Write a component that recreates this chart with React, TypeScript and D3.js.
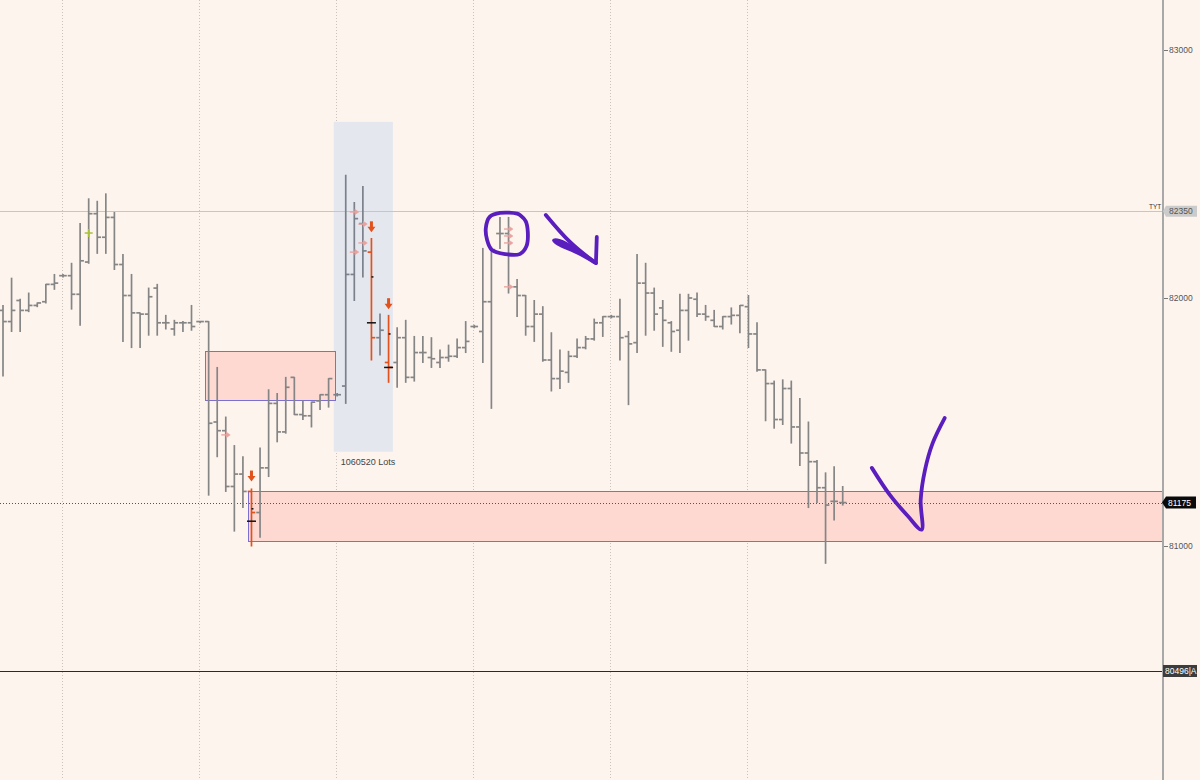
import React from 'react';
import * as d3 from 'd3';

// OHLC bars (price units), one per bar index
const opens = [81950,81905,81990,81950,81970,81985,82055,82090,82090,82015,82145,82340,82245,82325,82135,82010,81940,81935,82040,81900,81875,81900,81900,81905,81905,81500,81465,81240,81290,81220,81135,81315,81575,81460,81680,81530,81525,81585,81610,81610,81645,82095,82300,82185,81840,81740,81740,81840,81680,81780,81760,81740,81760,81765,81800,81885,81865,81985,82260,82260,82045,82010,81885,81935,81750,81675,81700,81765,81800,81835,81900,81925,81925,81845,81820,82060,82020,81960,81900,81870,81950,81995,81935,81910,81885,81925,81930,81965,81855,81710,81655,81510,81635,81480,81375,81340,81235,81180,81175];
const highs = [81970,82080,81995,82020,81980,82055,82095,82095,82140,82300,82400,82390,82420,82345,82175,82095,81940,82040,82055,81930,81910,81905,81970,81905,81905,81720,81520,81405,81360,81230,81395,81630,81615,81680,81680,81585,81580,81610,81675,81615,82495,82385,82450,82240,81935,81930,81880,81910,81845,81845,81840,81790,81810,81835,81905,81890,82200,82205,82325,82325,82075,82010,81990,81965,81860,81790,81785,81835,81845,81915,81925,81930,81995,81865,82175,82140,82040,81990,81905,82015,82015,82020,81970,81950,81925,81960,81970,82010,81900,81710,81665,81670,81665,81595,81500,81345,81295,81320,81240];
const lows = [81685,81865,81865,81945,81965,81980,82035,82085,81955,81890,82140,82180,82180,82115,81825,81800,81800,81850,81850,81875,81850,81865,81870,81900,81205,81360,81220,81060,81155,81000,81035,81280,81420,81455,81530,81510,81480,81550,81560,81605,81575,81990,82085,81750,81770,81660,81640,81660,81665,81740,81720,81720,81745,81760,81780,81880,81740,81555,82200,82020,81925,81850,81825,81745,81625,81635,81660,81760,81795,81830,81845,81920,81750,81570,81780,81850,81870,81805,81785,81780,81830,81925,81910,81885,81875,81895,81860,81800,81705,81505,81475,81490,81415,81325,81155,81175,80930,81105,81165];
const closes = [81905,81950,81950,81970,81980,82055,82060,82090,82015,82150,82340,82245,82325,82135,82010,81940,81935,82005,81900,81900,81900,81900,81885,81905,81495,81465,81240,81290,81220,81135,81315,81575,81460,81640,81530,81525,81580,81610,81675,81610,82095,82320,82190,81840,81870,81720,81840,81680,81780,81780,81755,81760,81765,81800,81825,81885,81985,82195,82260,82045,82010,81885,81935,81750,81675,81705,81765,81800,81835,81900,81925,81925,81840,81815,82060,82020,81935,81910,81865,81950,82000,81935,81925,81885,81925,81930,81970,81855,81710,81655,81510,81635,81480,81375,81340,81235,81165,81180,81175];

const orangeBars = [29, 43, 45];
const gridBars = [7, 23, 39, 55, 71, 87];
const priceTicks = [83000, 82000, 81000];

// extra markers on bars
const blackDots = [
  { bar: 29, price: 81150, wide: false },
  { bar: 29, price: 81100, wide: true },
  { bar: 43, price: 82085, wide: false },
  { bar: 43, price: 81900, wide: true },
  { bar: 45, price: 81855, wide: false },
  { bar: 45, price: 81720, wide: true },
];
const orangeArrows = [
  { bar: 29, price: 81280 },
  { bar: 43, price: 82285 },
  { bar: 45, price: 81975 },
];
const pinkArrows = [
  { bar: 26, price: 81448 },
  { bar: 41, price: 82347 },
  { bar: 41, price: 82185 },
  { bar: 42, price: 82298 },
  { bar: 42, price: 82222 },
  { bar: 59, price: 82278 },
  { bar: 59, price: 82250 },
  { bar: 59, price: 82222 },
  { bar: 59, price: 82045 },
];
const greenPlus = [{ bar: 10, price: 82262 }];

// zones: [startBar, endBar|null(=axis), topPrice, bottomPrice]
const pinkZones = [
  { from: 23.55, to: 38.75, top: 81785, bottom: 81587 },
  { from: 28.6, to: null, top: 81220, bottom: 81020 },
];
const volumeZone = { from: 38.6, to: 45.5, top: 82710, bottom: 81380, label: '1060520 Lots' };

const levelTyt = 82350;
const levelDot = 81175;
const levelA = 80496;

// purple freehand annotations in (bar, price)
const circlePts: [number, number][] = [
  [60.0, 82340], [58.0, 82343], [56.8, 82327], [56.35, 82282], [56.5, 82234], [57.05, 82194],
  [58.6, 82177], [60.3, 82177], [61.1, 82210], [61.25, 82266], [61.0, 82310], [60.4, 82333],
];
const arrowShaft: [number, number][] = [[63.35, 82335], [66.2, 82225], [69.0, 82145]];
const arrowLoop: [number, number][] = [[69.2, 82141], [67.1, 82182], [64.8, 82218], [64.3, 82232], [65.0, 82230], [67.3, 82186], [69.2, 82141]];
const arrowHead: [number, number][] = [[69.2, 82141], [69.3, 82246]];
const checkPts: [number, number][] = [
  [101.4, 81315], [103.5, 81206], [105.6, 81121], [107.2, 81066], [107.1, 81185], [107.6, 81306], [108.5, 81415], [109.9, 81516],
];

const W = 1200;
const H = 780;
const AXIS_X = 1163;

export default function App() {
  const x = d3.scaleLinear().domain([0, 98]).range([3, 842.7]);
  const y = d3.scaleLinear().domain([81000, 82000]).range([546, 298]);
  const crisp = (v: number) => Math.round(v) + 0.5;
  const lineGen = d3.line<[number, number]>().x(d => x(d[0])).y(d => y(d[1]));
  const smooth = d3.line<[number, number]>().x(d => x(d[0])).y(d => y(d[1])).curve(d3.curveCatmullRom.alpha(0.5));
  const closedSmooth = d3.line<[number, number]>().x(d => x(d[0])).y(d => y(d[1])).curve(d3.curveCatmullRomClosed.alpha(0.5));

  const gray = '#858585';
  const orange = '#e2521d';
  const purple = '#5a1ebe';
  const zoneStroke = '#7b6fd0';
  const font = '"Liberation Sans", Arial, sans-serif';

  return (
    <svg width={W} height={H} style={{ position: 'absolute', left: 0, top: 0 }} fontFamily={font}>
      <rect x={0} y={0} width={W} height={H} fill="#fdf4ee" />

      {/* vertical grid */}
      {gridBars.map(b => (
        <line key={'g' + b} x1={crisp(x(b) - 1)} x2={crisp(x(b) - 1)} y1={0} y2={H} stroke="#c9c2bd" strokeWidth={1} strokeDasharray="1,2" />
      ))}

      {/* volume zone */}
      <rect x={x(volumeZone.from)} y={y(volumeZone.top)} width={x(volumeZone.to) - x(volumeZone.from)} height={y(volumeZone.bottom) - y(volumeZone.top)} fill="#e5e7ee" />
      <text x={x(volumeZone.from) + 7} y={y(volumeZone.bottom) + 13} fontSize={9} fill="#444">{volumeZone.label}</text>

      {/* pink zones */}
      {pinkZones.map((z, i) => {
        const x0 = crisp(x(z.from));
        const x1 = z.to === null ? AXIS_X : crisp(x(z.to));
        const y0 = crisp(y(z.top));
        const y1 = crisp(y(z.bottom));
        return <rect key={'z' + i} x={x0} y={y0} width={x1 - x0} height={y1 - y0} fill="#fdd9d2" stroke={zoneStroke} strokeWidth={1} />;
      })}

      {/* horizontal levels */}
      <line x1={0} x2={AXIS_X} y1={crisp(y(levelTyt))} y2={crisp(y(levelTyt))} stroke="#c6c6c6" strokeWidth={1} />
      <line x1={0} x2={AXIS_X} y1={crisp(y(levelDot))} y2={crisp(y(levelDot))} stroke="#555" strokeWidth={1} strokeDasharray="1,2" />
      <line x1={0} x2={AXIS_X} y1={crisp(y(levelA))} y2={crisp(y(levelA))} stroke="#2a2a2a" strokeWidth={1} />

      {/* bars */}
      {opens.map((o, i) => {
        const isOr = orangeBars.includes(i);
        const inZone = i >= 39 && i <= 45;
        const c = isOr ? orange : inZone ? '#7b818b' : gray;
        const cx = x(i);
        return (
          <g key={'b' + i} stroke={c} strokeWidth={1.7}>
            <line x1={cx} x2={cx} y1={y(highs[i]) - 0.5} y2={y(lows[i]) + 0.5} />
            <line x1={cx - 3.8} x2={cx} y1={y(o)} y2={y(o)} />
            <line x1={cx} x2={cx + 3.8} y1={y(closes[i])} y2={y(closes[i])} />
          </g>
        );
      })}

      {/* black markers */}
      {blackDots.map((m, i) => (
        <line key={'k' + i} x1={m.wide ? x(m.bar) - 4.5 : x(m.bar)} x2={m.wide ? x(m.bar) + 4.5 : x(m.bar) + 2}
          y1={y(m.price)} y2={y(m.price)} stroke="#111" strokeWidth={1.5} />
      ))}

      {/* orange arrows */}
      {orangeArrows.map((a, i) => {
        const cx = x(a.bar);
        const cy = y(a.price);
        return (
          <g key={'oa' + i} fill={orange}>
            <rect x={cx - 1.5} y={cy - 6} width={3} height={6} />
            <path d={`M${cx - 4},${cy - 0.5} L${cx + 4},${cy - 0.5} L${cx},${cy + 5} Z`} />
          </g>
        );
      })}

      {/* pink arrows */}
      {pinkArrows.map((a, i) => {
        const cx = x(a.bar);
        const cy = y(a.price);
        return (
          <g key={'pa' + i} stroke="#e9a39e" fill="#e9a39e" strokeWidth={1.4}>
            <line x1={cx - 4.5} x2={cx + 2} y1={cy} y2={cy} />
            <path d={`M${cx + 0.5},${cy - 2.8} L${cx + 4.5},${cy} L${cx + 0.5},${cy + 2.8} Z`} strokeWidth={0.5} />
          </g>
        );
      })}

      {/* green plus */}
      {greenPlus.map((p, i) => (
        <g key={'gp' + i} stroke="#a9bf3e" strokeWidth={1.5}>
          <line x1={x(p.bar) - 4} x2={x(p.bar) + 4} y1={y(p.price)} y2={y(p.price)} />
          <line x1={x(p.bar)} x2={x(p.bar)} y1={y(p.price) - 4} y2={y(p.price) + 4} />
        </g>
      ))}

      {/* purple annotations */}
      <g stroke={purple} strokeWidth={3.8} fill="none" strokeLinecap="round" strokeLinejoin="round">
        <path d={closedSmooth(circlePts) || ''} />
        <path d={smooth(arrowShaft) || ''} />
        <path d={smooth(arrowLoop) || ''} />
        <path d={lineGen(arrowHead) || ''} />
        <path d={smooth(checkPts) || ''} />
      </g>

      {/* right axis */}
      <line x1={AXIS_X} x2={AXIS_X} y1={0} y2={H} stroke="#a8a8a8" strokeWidth={2} />
      {priceTicks.map(p => (
        <g key={'t' + p}>
          <line x1={AXIS_X + 1} x2={AXIS_X + 5} y1={crisp(y(p))} y2={crisp(y(p))} stroke="#777" strokeWidth={1} />
          <text x={AXIS_X + 6} y={y(p) + 3} fontSize={8.5} fill="#555">{p}</text>
        </g>
      ))}

      {/* level labels */}
      <text x={AXIS_X - 14} y={y(levelTyt) - 2} fontSize={6.5} fill="#333">TYT</text>
      <path d={`M${AXIS_X},${y(levelTyt)} L${AXIS_X + 3},${y(levelTyt) - 5.5} L${AXIS_X + 34},${y(levelTyt) - 5.5} L${AXIS_X + 34},${y(levelTyt) + 5.5} L${AXIS_X + 3},${y(levelTyt) + 5.5} Z`} fill="#cbcbcb" />
      <text x={AXIS_X + 6} y={y(levelTyt) + 3} fontSize={8.5} fill="#555">{levelTyt}</text>

      <path d={`M${AXIS_X - 1},${y(levelDot)} L${AXIS_X + 3},${y(levelDot) - 6} L${AXIS_X + 33},${y(levelDot) - 6} L${AXIS_X + 33},${y(levelDot) + 6} L${AXIS_X + 3},${y(levelDot) + 6} Z`} fill="#0a0a0a" />
      <text x={AXIS_X + 5} y={y(levelDot) + 3} fontSize={8.5} fill="#fff">{levelDot}</text>

      <rect x={AXIS_X} y={y(levelA) - 6} width={34} height={12} fill="#3c3c3c" />
      <text x={AXIS_X + 2} y={y(levelA) + 3} fontSize={8.5} fill="#fff">{levelA + '|A'}</text>
    </svg>
  );
}
